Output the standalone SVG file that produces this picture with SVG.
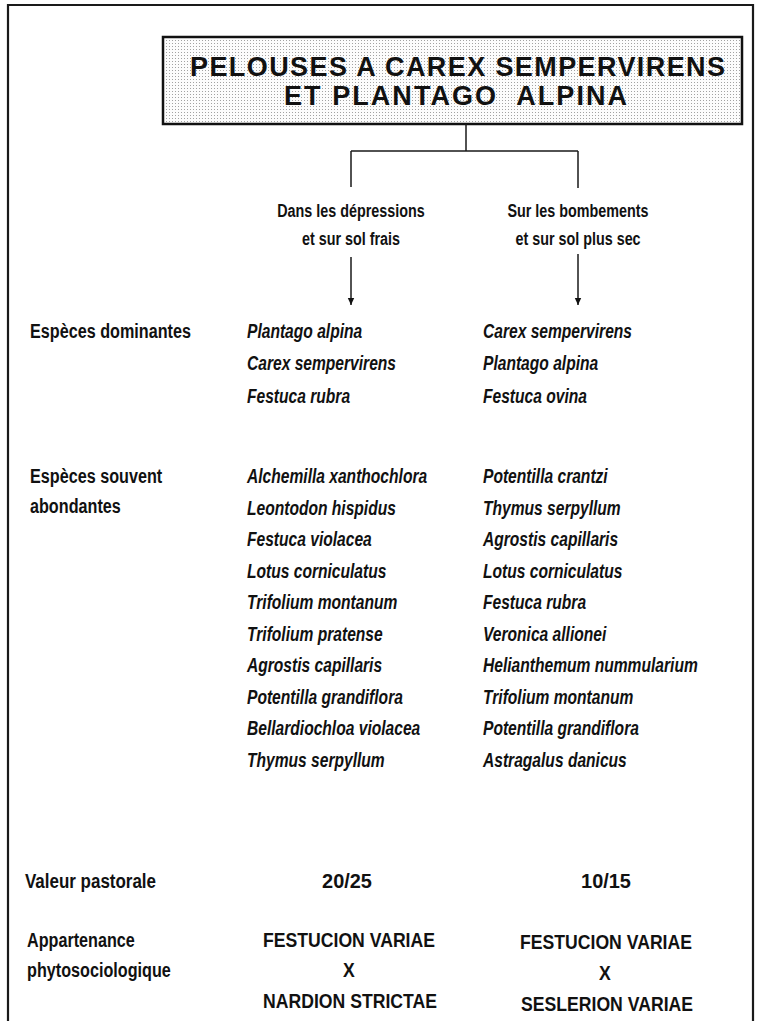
<svg xmlns="http://www.w3.org/2000/svg" width="757" height="1021" viewBox="0 0 757 1021">
  <defs>
    <!-- fine stipple used as the title box fill -->
    <pattern id="stipple" width="3" height="3" patternUnits="userSpaceOnUse">
      <rect width="3" height="3" fill="#fcfcfc"/>
      <rect x="1" y="1" width="1" height="1" fill="#a2a2a2"/>
    </pattern>
    <marker id="arrow" markerWidth="8" markerHeight="8" refX="7" refY="4" orient="auto" markerUnits="userSpaceOnUse">
      <path d="M0,0.8 L7,4 L0,7.2 Z" fill="#111"/>
    </marker>
    <style>
      text { fill: #111; font-family: "Liberation Sans", Arial, sans-serif; }
      .ttl { font-size: 27px; font-weight: bold; }
      .hd  { font-size: 17.5px; font-weight: bold; text-anchor: middle; }
      .lbl { font-size: 19.5px; font-weight: bold; }
      .sp  { font-size: 19.5px; font-weight: bold; font-style: italic; }
      .val { font-size: 21px; font-weight: bold; text-anchor: middle; }
      .cl  { font-size: 21px; font-weight: bold; text-anchor: middle; }
      .frame { fill: none; stroke: #1a1a1a; stroke-width: 2.2; }
      .conn { fill: none; stroke: #1a1a1a; stroke-width: 1.5; }
    </style>
  </defs>

  <rect width="757" height="1021" fill="#ffffff"/>

  <!-- outer frame (open at the bottom edge of the page) -->
  <path class="frame" d="M8,1030 V5 H753 V1030"/>

  <!-- title node -->
  <g id="title">
    <rect x="163" y="37" width="579" height="87" fill="url(#stipple)" stroke="#111" stroke-width="2.5"/>
    <text class="ttl" x="190" y="76" textLength="535" lengthAdjust="spacing">PELOUSES A CAREX SEMPERVIRENS</text>
    <text class="ttl" x="284" y="105" textLength="343" lengthAdjust="spacing" xml:space="preserve">ET PLANTAGO  ALPINA</text>
  </g>

  <!-- connectors -->
  <g id="connectors">
    <path class="conn" d="M466,124 V151 M351,151 H578 M351,151 V187 M578,151 V188"/>
    <path class="conn" d="M351,257 V305" marker-end="url(#arrow)"/>
    <path class="conn" d="M578,254 V305" marker-end="url(#arrow)"/>
  </g>

  <!-- branch headings -->
  <g id="branch-left">
    <text class="hd" transform="translate(351,217) scale(0.82,1)">Dans les dépressions</text>
    <text class="hd" transform="translate(351,245) scale(0.82,1)">et sur sol frais</text>
  </g>
  <g id="branch-right">
    <text class="hd" transform="translate(578,217) scale(0.82,1)">Sur les bombements</text>
    <text class="hd" transform="translate(578,245) scale(0.82,1)">et sur sol plus sec</text>
  </g>

  <!-- row labels -->
  <g id="row-labels">
    <text class="lbl" transform="translate(30,338) scale(0.83,1)">Espèces dominantes</text>
    <text class="lbl" transform="translate(30,483) scale(0.83,1)">Espèces souvent</text>
    <text class="lbl" transform="translate(30,513) scale(0.83,1)">abondantes</text>
    <text class="lbl" transform="translate(25,888) scale(0.87,1)">Valeur pastorale</text>
    <text class="lbl" transform="translate(27,947) scale(0.83,1)">Appartenance</text>
    <text class="lbl" transform="translate(27,977) scale(0.83,1)">phytosociologique</text>
  </g>

  <!-- left column: depressions, cool soil -->
  <g id="col-left-dominant">
    <text class="sp" transform="translate(247,338) scale(0.8,1)">Plantago alpina</text>
    <text class="sp" transform="translate(247,370) scale(0.8,1)">Carex sempervirens</text>
    <text class="sp" transform="translate(247,403) scale(0.8,1)">Festuca rubra</text>
  </g>
  <g id="col-left-abundant">
    <text class="sp" transform="translate(247,483) scale(0.8,1)">Alchemilla xanthochlora</text>
    <text class="sp" transform="translate(247,514.5) scale(0.8,1)">Leontodon hispidus</text>
    <text class="sp" transform="translate(247,546) scale(0.8,1)">Festuca violacea</text>
    <text class="sp" transform="translate(247,577.5) scale(0.8,1)">Lotus corniculatus</text>
    <text class="sp" transform="translate(247,609) scale(0.8,1)">Trifolium montanum</text>
    <text class="sp" transform="translate(247,640.5) scale(0.8,1)">Trifolium pratense</text>
    <text class="sp" transform="translate(247,672) scale(0.8,1)">Agrostis capillaris</text>
    <text class="sp" transform="translate(247,703.5) scale(0.8,1)">Potentilla grandiflora</text>
    <text class="sp" transform="translate(247,735) scale(0.8,1)">Bellardiochloa violacea</text>
    <text class="sp" transform="translate(247,766.5) scale(0.8,1)">Thymus serpyllum</text>
  </g>
  <g id="col-left-value">
    <text class="val" transform="translate(347,888) scale(0.95,1)">20/25</text>
  </g>
  <g id="col-left-class">
    <text class="cl" transform="translate(349,947) scale(0.84,1)">FESTUCION VARIAE</text>
    <text class="cl" transform="translate(349,977) scale(0.84,1)">X</text>
    <text class="cl" transform="translate(350,1008) scale(0.84,1)">NARDION STRICTAE</text>
  </g>

  <!-- right column: mounds, drier soil -->
  <g id="col-right-dominant">
    <text class="sp" transform="translate(483,338) scale(0.8,1)">Carex sempervirens</text>
    <text class="sp" transform="translate(483,370) scale(0.8,1)">Plantago alpina</text>
    <text class="sp" transform="translate(483,403) scale(0.8,1)">Festuca ovina</text>
  </g>
  <g id="col-right-abundant">
    <text class="sp" transform="translate(483,483) scale(0.8,1)">Potentilla crantzi</text>
    <text class="sp" transform="translate(483,514.5) scale(0.8,1)">Thymus serpyllum</text>
    <text class="sp" transform="translate(483,546) scale(0.8,1)">Agrostis capillaris</text>
    <text class="sp" transform="translate(483,577.5) scale(0.8,1)">Lotus corniculatus</text>
    <text class="sp" transform="translate(483,609) scale(0.8,1)">Festuca rubra</text>
    <text class="sp" transform="translate(483,640.5) scale(0.8,1)">Veronica allionei</text>
    <text class="sp" transform="translate(483,672) scale(0.8,1)">Helianthemum nummularium</text>
    <text class="sp" transform="translate(483,703.5) scale(0.8,1)">Trifolium montanum</text>
    <text class="sp" transform="translate(483,735) scale(0.8,1)">Potentilla grandiflora</text>
    <text class="sp" transform="translate(483,766.5) scale(0.8,1)">Astragalus danicus</text>
  </g>
  <g id="col-right-value">
    <text class="val" transform="translate(606,888) scale(0.95,1)">10/15</text>
  </g>
  <g id="col-right-class">
    <text class="cl" transform="translate(606,949) scale(0.84,1)">FESTUCION VARIAE</text>
    <text class="cl" transform="translate(605,980) scale(0.84,1)">X</text>
    <text class="cl" transform="translate(607,1011) scale(0.84,1)">SESLERION VARIAE</text>
  </g>
</svg>
